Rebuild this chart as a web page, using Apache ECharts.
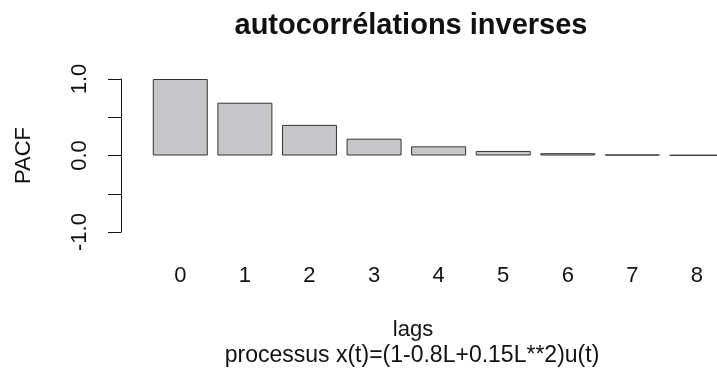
<!DOCTYPE html>
<html><head><meta charset="utf-8">
<script src="https://cdn.jsdelivr.net/npm/echarts@6/dist/echarts.min.js"></script>
<style>html,body{margin:0;padding:0;background:#fff}#c{width:717px;height:377px}</style>
</head><body><div id="c"></div>
<script>
const lags = [0, 1, 2, 3, 4, 5, 6, 7, 8];
const pacf = [1.0, 0.69, 0.40, 0.22, 0.12, 0.06, 0.03, 0.012, 0.006];
const yTicks = [-1, -0.5, 0, 0.5, 1];
const yLabels = {'-1': '-1.0', '0': '0.0', '1': '1.0'};
const titleText = 'autocorrélations inverses';
const xName = 'lags';
const subText = 'processus x(t)=(1-0.8L+0.15L**2)u(t)';
const yName = 'PACF';

const F = 'Liberation Sans, Arial, sans-serif';
const chart = echarts.init(document.getElementById('c'), null, {renderer: 'canvas'});
chart.setOption({
  backgroundColor: '#fff',
  animation: false,
  title: [
    {text: titleText, left: 406, top: 6, textAlign: 'center',
     textStyle: {fontFamily: F, fontSize: 29, fontWeight: 'bold', color: '#111'}},
    {text: subText, left: 407, top: 339, textAlign: 'center',
     textStyle: {fontFamily: F, fontSize: 23, fontWeight: 'normal', color: '#111'}}
  ],
  grid: {left: 148, top: 79, right: 0, height: 153, containLabel: false},
  xAxis: {
    type: 'value', min: -0.5, max: 8.31,
    splitLine: {show: false},
    axisLine: {show: false}, axisTick: {show: false},
    axisLabel: {customValues: lags, margin: 33, fontFamily: F, fontSize: 22, color: '#111',
      showMinLabel: true, showMaxLabel: true},
    name: xName, nameLocation: 'middle', nameGap: 87,
    nameTextStyle: {fontFamily: F, fontSize: 22, color: '#111', padding: [0, 39, 0, 0]}
  },
  yAxis: {
    type: 'value', min: yTicks[0], max: yTicks[yTicks.length - 1], interval: 0.5,
    offset: 27,
    splitLine: {show: false},
    axisLine: {show: true, onZero: false, lineStyle: {color: '#111', width: 1}},
    axisTick: {show: true, length: 13, lineStyle: {color: '#111'}},
    axisLabel: {rotate: 90, margin: 30, fontFamily: F, fontSize: 22, color: '#111',
      formatter: v => yLabels[String(v)] || ''},
    name: yName, nameLocation: 'middle', nameRotate: 90, nameGap: 86,
    nameTextStyle: {fontFamily: F, fontSize: 22, color: '#111'}
  },
  series: [{
    type: 'bar', data: lags.map((l, i) => [l, pacf[i]]), barWidth: 55,
    itemStyle: {color: '#c6c6c8', borderColor: '#333', borderWidth: 1}
  }]
});
</script></body></html>
